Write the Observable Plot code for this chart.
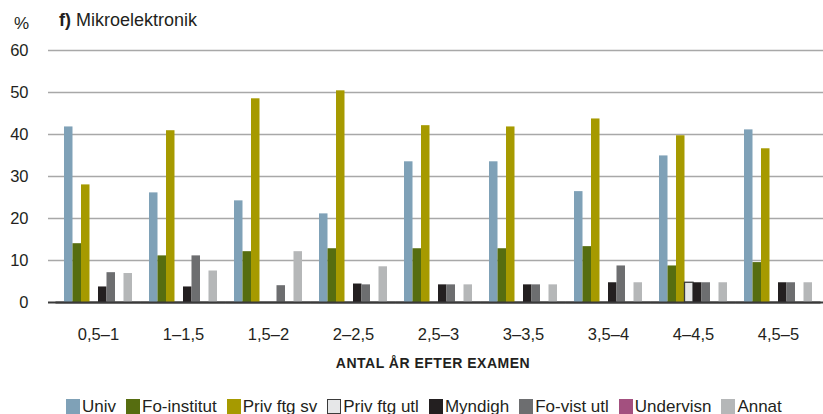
<!DOCTYPE html>
<html>
<head>
<meta charset="utf-8">
<script src="https://cdn.jsdelivr.net/npm/d3@7"></script>
<script src="https://cdn.jsdelivr.net/npm/@observablehq/plot@0.6"></script>
<style>
  html, body { margin: 0; padding: 0; background: #fff; }
  body { width: 823px; height: 414px; position: relative; overflow: hidden;
         font-family: "Liberation Sans", Arial, sans-serif; color: #231f20; }
  .abs { position: absolute; white-space: nowrap; }
  #pct { left: 14px; top: 14.6px; font-size: 17px; line-height: 17px; }
  #title { left: 59px; top: 10.8px; font-size: 18px; line-height: 18px; }
  #title b { margin-right: 5px; }
  #xlabel { left: 0; width: 866px; text-align: center; top: 356px; font-size: 14px; line-height: 14px;
            font-weight: bold; letter-spacing: 0.5px; color: #231f20; }
  #legend { left: 66px; top: 397.6px; display: flex; gap: 10px; font-size: 17px; line-height: 17px; }
  #legend .item { display: flex; align-items: flex-start; }
  #legend .sw { width: 14px; height: 15px; margin-right: 2px; margin-top: 1.4px; box-sizing: border-box; }
  #chart svg { position: absolute; left: 0; top: 0; }
</style>
</head>
<body>
<div id="pct" class="abs">%</div>
<div id="title" class="abs"><b>f)</b>Mikroelektronik</div>
<div id="chart"></div>
<div id="xlabel" class="abs">ANTAL ÅR EFTER EXAMEN</div>
<div id="legend" class="abs"></div>
<script>
// ---- data ----
const groups = ["0,5–1", "1–1,5", "1,5–2", "2–2,5", "2,5–3", "3–3,5", "3,5–4", "4–4,5", "4,5–5"];
const series = ["Univ", "Fo-institut", "Priv ftg sv", "Priv ftg utl", "Myndigh", "Fo-vist utl", "Undervisn", "Annat"];
const univ       = [41.8, 26.1, 24.2, 21.1, 33.5, 33.5, 26.4, 34.9, 41.1];
const foInstitut = [14.0, 11.1, 12.1, 12.8, 12.8, 12.8, 13.3, 8.7, 9.5];
const privFtgSv  = [28.0, 40.9, 48.5, 50.4, 42.1, 41.8, 43.7, 39.7, 36.6];
const privFtgUtl = [0, 0, 0, 0, 0, 0, 0, 4.7, 0];
const myndigh    = [3.7, 3.7, 0, 4.4, 4.2, 4.2, 4.7, 4.7, 4.7];
const foVistUtl  = [7.1, 11.1, 4.0, 4.2, 4.2, 4.2, 8.7, 4.7, 4.7];
const undervisn  = [0, 0, 0, 0, 0, 0, 0, 0, 0];
const annat      = [6.9, 7.5, 12.1, 8.5, 4.2, 4.2, 4.7, 4.7, 4.7];
const yTicks = [0, 10, 20, 30, 40, 50, 60];
const colors = ["#7fa1b7", "#566d10", "#a69a00", "#e6e7e8", "#231f20", "#6d6e70", "#a3507f", "#b5b7b8"];

const values = [univ, foInstitut, privFtgSv, privFtgUtl, myndigh, foVistUtl, undervisn, annat];
const table = [];
groups.forEach((g, gi) => series.forEach((s, si) => table.push({group: g, series: s, value: values[si][gi]})));

const W = 823, H = 345, mT = 50, mB = 43, mL = 48, mR = 0;
const font = {fontFamily: "'Liberation Sans', Arial, sans-serif", fontSize: "16.5px", color: "#231f20", background: "transparent"};

// background: grid + y axis
const bg = Plot.plot({
  width: W, height: H, marginTop: mT, marginBottom: mB, marginLeft: mL, marginRight: mR,
  style: font,
  y: {domain: [0, 60], ticks: yTicks, tickSize: 0, tickPadding: 20, label: null},
  marks: [
    Plot.ruleY(yTicks.filter(t => t > 0), {stroke: "#a8a8a8", strokeWidth: 1.6}),
    Plot.ruleY([0], {stroke: "#3a3a3a", strokeWidth: 2})
  ]
});

// foreground: faceted grouped bars
const fg = Plot.plot({
  width: W, height: H, marginTop: mT, marginBottom: mB, marginLeft: mL, marginRight: mR,
  style: font,
  facet: {data: table, x: "group"},
  fx: {domain: groups, paddingInner: 0, paddingOuter: 0.0588, align: 0.75, round: false, axis: "bottom",
       tickSize: 0, tickPadding: 26, label: null},
  x: {domain: series, paddingInner: 0, paddingOuter: 1, round: false, axis: null},
  y: {domain: [0, 60], axis: null},
  color: {domain: series, range: colors},
  marks: [
    Plot.barY(table, {x: "series", y: "value", fill: "series",
      stroke: d => d.series === "Priv ftg utl" ? "#3a3a3a" : "none", strokeWidth: 1.3}),
    Plot.ruleY([0], {stroke: "#3a3a3a", strokeWidth: 2})
  ]
});

const chart = document.getElementById("chart");
chart.appendChild(bg);
chart.appendChild(fg);

// legend
const legend = document.getElementById("legend");
series.forEach((s, i) => {
  const item = document.createElement("div");
  item.className = "item";
  const sw = document.createElement("div");
  sw.className = "sw";
  sw.style.background = colors[i];
  if (s === "Priv ftg utl") sw.style.border = "1.5px solid #3a3a3a";
  const t = document.createElement("span");
  t.textContent = s;
  item.appendChild(sw);
  item.appendChild(t);
  legend.appendChild(item);
});
</script>
</body>
</html>
